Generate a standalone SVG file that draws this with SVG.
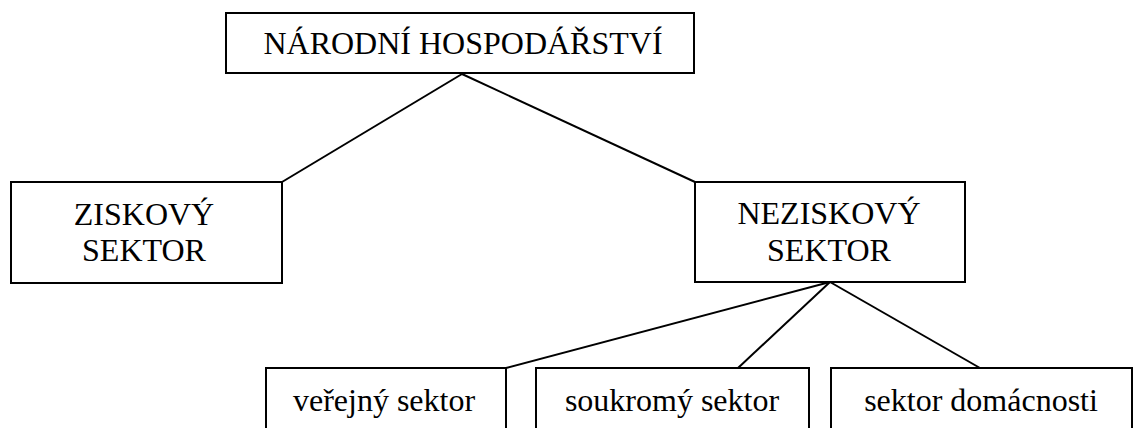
<svg xmlns="http://www.w3.org/2000/svg" width="1134" height="428" viewBox="0 0 1134 428">
<style>
.box{fill:#fff;stroke:#000;stroke-width:2}
.lbl{font-size:32px;fill:#000;text-anchor:middle}
.con{stroke:#000;stroke-width:2;fill:none}
</style>
<rect width="1134" height="428" fill="#fff"/>
<g id="connectors">
<line class="con" x1="462" y1="74" x2="282" y2="182"/>
<line class="con" x1="462" y1="74" x2="695" y2="182"/>
<line class="con" x1="830" y1="282" x2="506" y2="368"/>
<line class="con" x1="830" y1="282" x2="738" y2="368"/>
<line class="con" x1="830" y1="282" x2="980" y2="368"/>
</g>
<g font-family="'Liberation Serif', 'DejaVu Serif', serif">
<g id="narodni">
<rect class="box" x="226" y="13" width="468" height="60"/>
<text class="lbl" x="463" y="54">NÁRODNÍ HOSPODÁŘSTVÍ</text>
</g>
<g id="ziskovy">
<rect class="box" x="11" y="182" width="271" height="101"/>
<text class="lbl" x="144" y="225">ZISKOVÝ</text>
<text class="lbl" x="144" y="261">SEKTOR</text>
</g>
<g id="neziskovy">
<rect class="box" x="695" y="182" width="270" height="100"/>
<text class="lbl" x="829" y="224">NEZISKOVÝ</text>
<text class="lbl" x="829" y="261">SEKTOR</text>
</g>
<g id="verejny">
<rect class="box" x="266" y="368" width="240" height="80"/>
<text class="lbl" x="384" y="411">veřejný sektor</text>
</g>
<g id="soukromy">
<rect class="box" x="536" y="368" width="273" height="80"/>
<text class="lbl" x="672" y="411">soukromý sektor</text>
</g>
<g id="domacnosti">
<rect class="box" x="831" y="368" width="301" height="80"/>
<text class="lbl" x="981" y="411">sektor domácnosti</text>
</g>
</g>
</svg>
